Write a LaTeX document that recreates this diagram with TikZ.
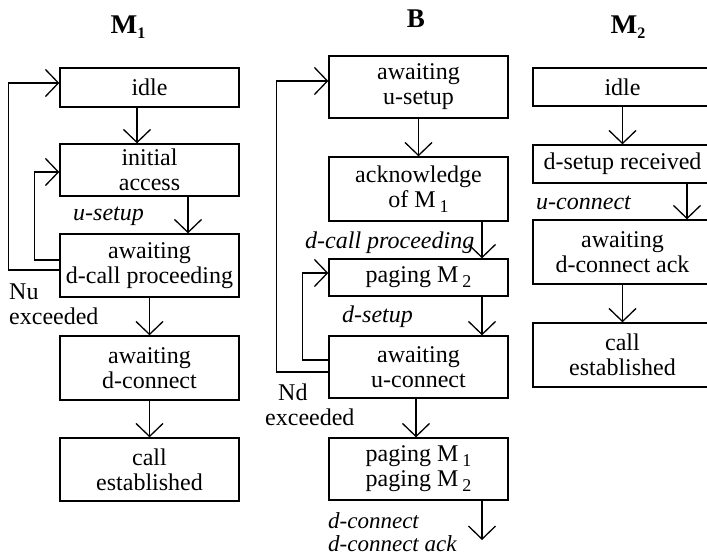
\documentclass[tikz,border=0pt]{standalone}
\usepackage{fontspec}
\usepackage{graphicx}
\setmainfont{Liberation Serif}
\usetikzlibrary{arrows.meta}

\newcommand{\lowidx}[1]{\,\raisebox{-0.45ex}{\fontsize{18}{18}\selectfont #1}}
\newcommand{\headM}[1]{\scalebox{1.05}[1]{M}\raisebox{-0.45ex}{\fontsize{16}{16}\selectfont #1}}

\begin{document}
\begin{tikzpicture}[x=1pt, y=-1pt,
        state/.style={draw, line width=1.3pt, minimum width=179pt, align=center,
                      inner sep=0pt, font=\fontsize{24}{25}\selectfont},
        msg/.style={font=\fontsize{24}{21}\selectfont\itshape, inner sep=0pt, align=left},
        note/.style={font=\fontsize{24}{25}\selectfont, inner sep=0pt, align=left},
        title/.style={font=\bfseries\fontsize{27}{27}\selectfont, inner sep=0pt},
        arr/.style={line width=1.1pt, -{Straight Barb[length=13pt,width=27pt,line width=1.3pt]}}]
    \useasboundingbox (0,0) rectangle (707,556);
    \clip (0,0) rectangle (707,556);

    % headings
    \node[title] (h1) at (128,27) {\headM{1}};
    \node[title] (hb) at (416,19) {B};
    \node[title] (h2) at (628,27) {\headM{2}};

    % M1
    \node[state, minimum height=39pt] (m1idle) at (149.5,87.5) {idle};
    \node[state, minimum height=52pt] (m1init) at (149.5,170) {initial\\access};
    \node[state, minimum height=63pt] (m1wait) at (149.5,265.5) {awaiting\\d-call proceeding};
    \node[state, minimum height=64pt] (m1conn) at (149.5,368) {awaiting\\d-connect};
    \node[state, minimum height=63pt] (m1est) at (149.5,469.5) {call\\established};

    \draw[arr] ([xshift=-12.5pt]m1idle.south) -- ([xshift=-12.5pt]m1init.north);
    \draw[arr] ([xshift=38.5pt]m1init.south) -- ([xshift=38.5pt]m1wait.north);
    \draw[arr] (m1wait) -- (m1conn);
    \draw[arr] (m1conn) -- (m1est);
    \draw[arr] ([yshift=5.5pt]m1wait.west) -- ++(-25,0) |- ([yshift=-2pt]m1init.west);
    \draw[arr] ([yshift=-4.5pt]m1wait.west) -- ++(-51,0) |- ([yshift=4.5pt]m1idle.west);

    \node[msg, anchor=west] (usetup) at (73,216) {u-setup};
    \node[note, anchor=west] (nu) at (9,304.5) {Nu\\exceeded};

    % B
    \node[state, minimum height=62pt] (bwait) at (418.5,87) {awaiting\\u-setup};
    \node[state, minimum height=64pt] (back) at (418.5,189) {acknowledge\\of M\lowidx{1}};
    \node[state, minimum height=37pt] (bpage) at (418.5,277.5) {paging M\lowidx{2}};
    \node[state, minimum height=62pt] (bconn) at (418.5,367) {awaiting\\u-connect};
    \node[state, minimum height=62pt] (bpage2) at (418.5,469) {paging M\lowidx{1}\\paging M\lowidx{2}};
    \coordinate (bexit) at (482,540);

    \draw[arr] (bwait) -- (back);
    \draw[arr] ([xshift=63.5pt]back.south) -- ([xshift=63.5pt]bpage.north);
    \draw[arr] ([xshift=63.5pt]bpage.south) -- ([xshift=63.5pt]bconn.north);
    \draw[arr] ([xshift=-2.5pt]bconn.south) -- ([xshift=-2.5pt]bpage2.north);
    \draw[arr] ([xshift=63.5pt]bpage2.south) -- (bexit);
    \draw[arr] ([yshift=7pt]bconn.west) -- ++(-26,0) |- ([yshift=4.5pt]bpage.west);
    \draw[arr] ([yshift=-5pt]bconn.west) -- ++(-52,0) |- ([yshift=6pt]bwait.west);

    \node[msg, anchor=west] (dcallp) at (305,243) {d-call proceeding};
    \node[msg, anchor=west] (dsetup) at (342,317) {d-setup};
    \node[msg, anchor=west, font=\fontsize{23}{23}\selectfont\itshape] (dconn) at (328,532) {d-connect\\d-connect ack};
    \node[note, anchor=west] (nd) at (265,404.5) {\hspace*{13pt}Nd\\exceeded};

    % M2
    \node[state, minimum height=38pt] (m2idle) at (622.5,87) {idle};
    \node[state, minimum height=38pt] (m2recv) at (622.5,164) {d-setup received};
    \node[state, minimum height=64pt] (m2wait) at (622.5,252) {awaiting\\d-connect ack};
    \node[state, minimum height=64pt] (m2est) at (622.5,355) {call\\established};

    \draw[arr] (m2idle) -- (m2recv);
    \draw[arr] ([xshift=64.5pt]m2recv.south) -- ([xshift=64.5pt]m2wait.north);
    \draw[arr] (m2wait) -- (m2est);

    \node[msg, anchor=west] (uconn) at (536,203) {u-connect};
\end{tikzpicture}
\end{document}
